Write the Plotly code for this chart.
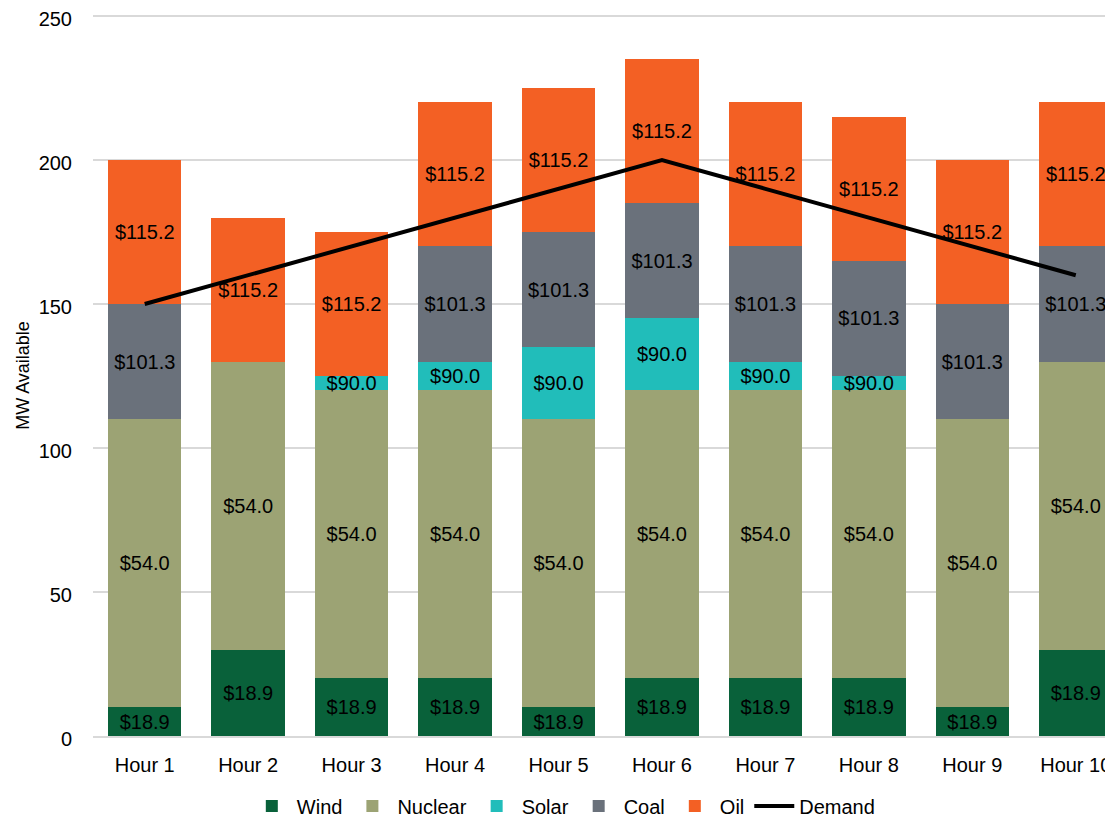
import plotly.graph_objects as go

hours = ["Hour 1", "Hour 2", "Hour 3", "Hour 4", "Hour 5", "Hour 6", "Hour 7", "Hour 8", "Hour 9", "Hour 10"]
wind = [10, 30, 20, 20, 10, 20, 20, 20, 10, 30]
nuclear = [100, 100, 100, 100, 100, 100, 100, 100, 100, 100]
solar = [0, 0, 5, 10, 25, 25, 10, 5, 0, 0]
coal = [40, 0, 0, 40, 40, 40, 40, 40, 40, 40]
oil = [50, 50, 50, 50, 50, 50, 50, 50, 50, 50]
demand = [150, 160, 170, 180, 190, 200, 190, 180, 170, 160]
prices = {"Wind": 18.9, "Nuclear": 54.0, "Solar": 90.0, "Coal": 101.3, "Oil": 115.2}

FONT = "Liberation Sans Narrow, Arial Narrow, Liberation Sans, Arial"

series = [
    ("Wind", wind, "#09613A"),
    ("Nuclear", nuclear, "#9CA374"),
    ("Solar", solar, "#21BDBA"),
    ("Coal", coal, "#6A717B"),
    ("Oil", oil, "#F36024"),
]

fig = go.Figure()
for name, vals, color in series:
    fig.add_trace(go.Bar(
        name=name, x=hours, y=vals,
        marker=dict(color=color, line=dict(width=0)),
        text=[f"${prices[name]:.1f}" if v > 0 else "" for v in vals],
        textposition="inside", insidetextanchor="middle", textangle=0,
        textfont=dict(family=FONT, size=20, color="#000000"),
    ))

fig.add_trace(go.Scatter(
    name="Demand", x=hours, y=demand, mode="lines",
    line=dict(color="#000000", width=4),
))

# page body has an 8px margin, so the figure is drawn 8px smaller and offset
fig.update_layout(
    barmode="stack",
    bargap=0.29,
    width=1105, height=811,
    margin=dict(l=85, r=0, t=7, b=83, autoexpand=False),
    plot_bgcolor="white", paper_bgcolor="white",
    font=dict(family=FONT, size=20, color="#000000"),
    uniformtext=dict(mode="show", minsize=20),
    legend=dict(orientation="h", xref="container", yref="container",
                x=0.503, xanchor="center", y=0.016, yanchor="middle",
                font=dict(family=FONT, size=20), traceorder="normal",
                itemwidth=40, tracegroupgap=0),
    xaxis=dict(showline=True, linecolor="#D9D9D9", linewidth=1.5, ticks="",
               range=[-0.5, 9.36], automargin=False, ticklabelstandoff=10,
               tickfont=dict(family=FONT, size=20)),
    yaxis=dict(range=[0, 250.35], tickvals=[0, 50, 100, 150, 200, 250],
               showgrid=True, gridcolor="#D9D9D9",
               gridwidth=1.5, zeroline=False, showline=False, ticks="",
               ticklabelstandoff=20, automargin=False, ticklabeloverflow="allow",
               ticklabelshift=3,
               tickfont=dict(family=FONT, size=20),
               title=dict(text="MW Available", font=dict(family=FONT, size=18), standoff=4)),
)

fig.write_html("out.html")
